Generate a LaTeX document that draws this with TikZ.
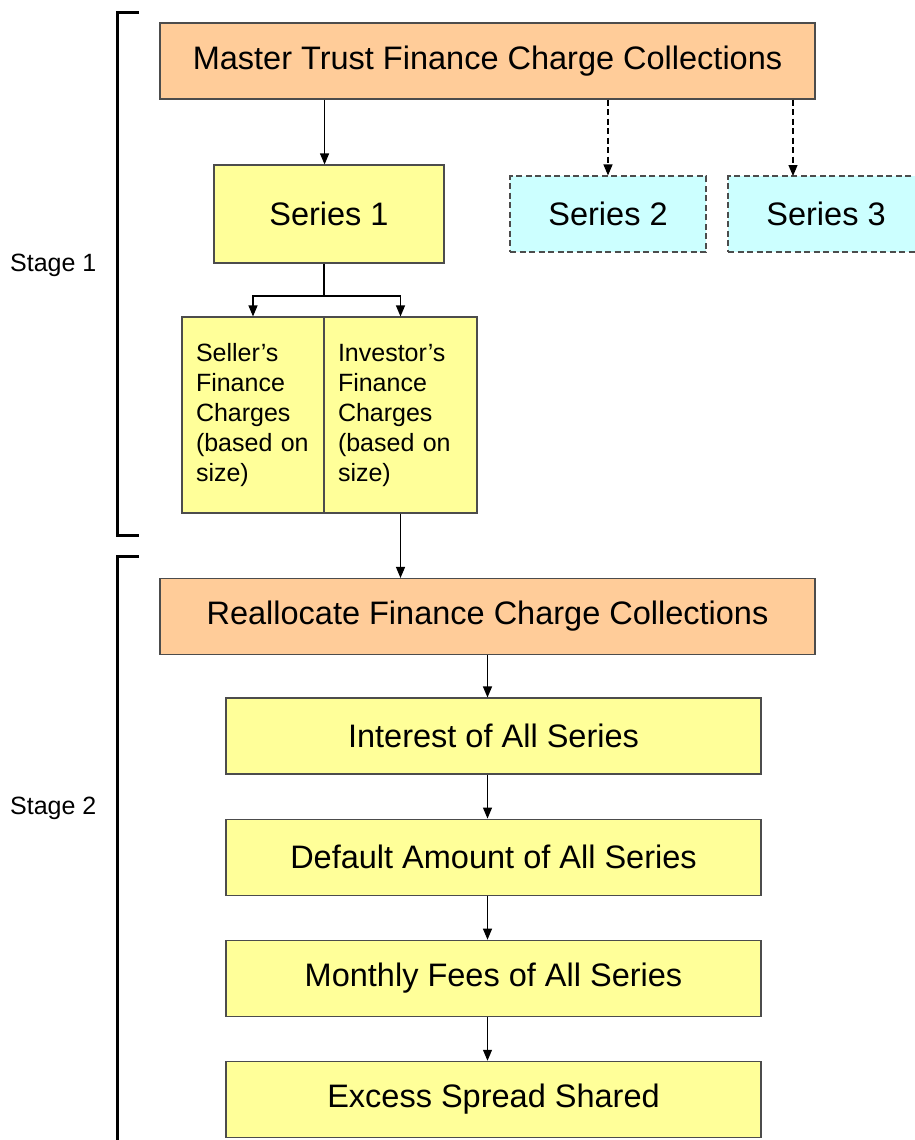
\documentclass[tikz,border=0pt]{standalone}
\usepackage{fontspec}
\setmainfont{Liberation Sans}
\usetikzlibrary{arrows.meta,positioning}
\definecolor{peach}{HTML}{FFCC99}
\definecolor{paleyellow}{HTML}{FFFF99}
\definecolor{palecyan}{HTML}{CCFFFF}

\begin{document}
\begin{tikzpicture}[
        x=1pt, y=-1pt,
        node distance=44pt,
        every node/.style={inner sep=0pt},
        flowbox/.style={draw=black!70, line width=1.1pt, minimum height=76pt,
            font=\fontsize{32.5}{39}\selectfont},
        collection/.style={flowbox, fill=peach, minimum width=655pt},
        allseries/.style={flowbox, fill=paleyellow, minimum width=535pt},
        dashline/.style={dash pattern=on 6pt off 3.5pt},
        otherseries/.style={flowbox, fill=palecyan, dashline, minimum width=196pt},
        charges/.style={draw=black!70, line width=1.1pt, fill=paleyellow,
            minimum height=196pt, inner xsep=14pt, align=left,
            font=\fontsize{25}{30}\selectfont},
        stage/.style={anchor=west, font=\fontsize{25}{30}\selectfont},
        flow/.style={-{Triangle[width=9pt,length=11pt]}, line width=1.1pt},
        bracket/.style={line width=3pt}
        ]
        \useasboundingbox (0,0) rectangle (914,1140);
        % stage 1
        \node[collection] (master) at (487.5,61) {Master Trust Finance Charge Collections};
        \node[flowbox, fill=paleyellow, minimum width=230pt, minimum height=98pt] (series1) at (329,214) {Series 1};
        \node[otherseries] (series2) at (608,214) {Series 2};
        \node[otherseries] (series3) at (826,214) {Series 3};
        \node[charges, text width=114pt] (seller) at (253,415) {Seller’s\\Finance\\Charges\\(based on\\size)};
        \node[charges, text width=125pt] (investor) at (400.5,415) {Investor’s\\Finance\\Charges\\(based on\\size)};
        \coordinate (s3in) at (793,176);
        \coordinate (branch) at (324,296);
        \draw[flow] (seller.north east |- master.south) -- (seller.north east |- series1.north);
        \draw[flow, dashline] (series2.north |- master.south) -- (series2.north);
        \draw[flow, dashline] (s3in |- master.south) -- (s3in);
        \draw[line width=1.1pt] (branch |- series1.south) -- (branch);
        \draw[flow] (branch) -| (seller.north);
        \draw[flow] (branch) -| (investor.north);
        % stage 2
        \node[collection] (realloc) at (487.5,616.5) {Reallocate Finance Charge Collections};
        \node[allseries] (interest) at (493.5,736) {Interest of All Series};
        \node[allseries, below=of interest] (default) {Default Amount of All Series};
        \node[allseries, below=of default] (fees) {Monthly Fees of All Series};
        \node[allseries, below=of fees] (excess) {Excess Spread Shared};
        \draw[flow] (investor.south) -- (investor.south |- realloc.north);
        \draw[flow] (realloc.south) -- (realloc.south |- interest.north);
        \draw[flow] (realloc.south |- interest.south) -- (realloc.south |- default.north);
        \draw[flow] (realloc.south |- default.south) -- (realloc.south |- fees.north);
        \draw[flow] (realloc.south |- fees.south) -- (realloc.south |- excess.north);
        % brackets
        \draw[bracket] (139,13) -- (117,13) -- (117,535) -- (139,535);
        \draw[bracket] (139,556) -- (117,556) -- (117,1150);
        \node[stage] (stage1) at (10,265) {Stage 1};
        \node[stage] (stage2) at (10,808) {Stage 2};
\end{tikzpicture}
\end{document}
